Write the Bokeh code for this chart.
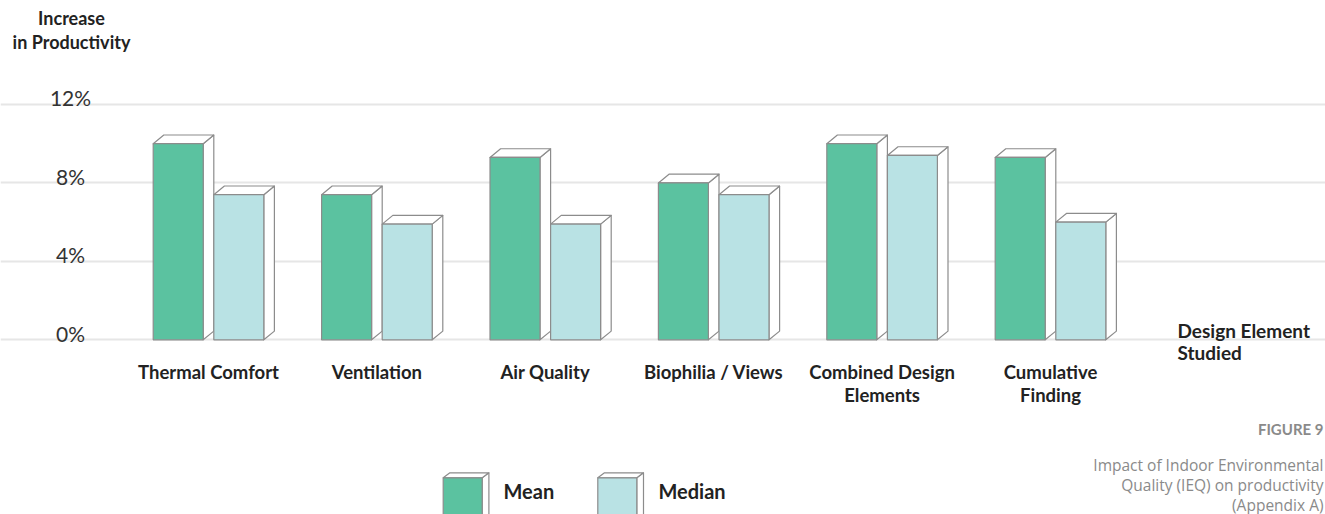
from bokeh.plotting import figure
from bokeh.models import Range1d, Grid, FixedTicker
from bokeh.core.properties import value
from bokeh.embed import file_html
from bokeh.resources import INLINE

# ---- data -------------------------------------------------------------
categories = [
    "Thermal Comfort",
    "Ventilation",
    "Air Quality",
    "Biophilia / Views",
    "Combined Design\nElements",
    "Cumulative\nFinding",
]
mean_vals = [10.0, 7.4, 9.3, 8.0, 10.0, 9.3]
median_vals = [7.4, 5.9, 5.9, 7.4, 9.4, 6.0]
series_names = ["Mean", "Median"]
y_ticks = [0, 4, 8, 12]
y_tick_labels = ["0%", "4%", "8%", "12%"]
caption_lines = [
    "Impact of Indoor Environmental",
    "Quality (IEQ) on productivity",
    "(Appendix A)",
]

# ---- styling ----------------------------------------------------------
MEAN_COLOR = "#5bc2a0"
MEDIAN_COLOR = "#b9e2e4"
EDGE = "#8c8c8c"
GRID = "#e6e6e6"
INK = "#222222"
MUTED = "#8a8a8a"

W, H = 1325, 514
# canvas geometry: centre of the first group, spacing between groups,
# baseline position and pixels per percentage point
X0_PX, STEP_PX = 208.0, 168.4
Y0_PX, UNIT_PX = 339.3, 19.61


def xd(px):
    return (px - X0_PX) / STEP_PX


def yd(py):
    return (Y0_PX - py) / UNIT_PX


BAR_W = 50.0 / STEP_PX          # width of the front face of one bar
DEPTH_X = 10.6 / STEP_PX        # horizontal depth of the 3-D extrusion
DEPTH_Y = 8.7 / UNIT_PX         # vertical depth of the 3-D extrusion

p = figure(
    width=W, height=H,
    x_range=Range1d(xd(0), xd(W)), y_range=Range1d(yd(H), yd(0)),
    output_backend="svg", toolbar_location=None,
    x_axis_location=None, y_axis_location=None,
    min_border=0, outline_line_color=None,
)
p.xgrid.visible = False
p.ygrid.visible = False

grid = Grid(dimension=1, ticker=FixedTicker(ticks=y_ticks),
            bounds=(xd(110), xd(1158)),
            grid_line_color=GRID, grid_line_width=2)
p.add_layout(grid)


def draw_bars(x0s, x1s, tops, bottoms, color, dx, dy):
    """Front face plus white top and side faces of extruded bars."""
    side_xs, side_ys, top_xs, top_ys = [], [], [], []
    for x0, x1, t, b in zip(x0s, x1s, tops, bottoms):
        side_xs.append([x1, x1 + dx, x1 + dx, x1])
        side_ys.append([b, b + dy, t + dy, t])
        top_xs.append([x0, x0 + dx, x1 + dx, x1])
        top_ys.append([t, t + dy, t + dy, t])
    p.patches(side_xs, side_ys, fill_color="white", line_color=EDGE,
              line_width=1.2, line_join="round")
    p.patches(top_xs, top_ys, fill_color="white", line_color=EDGE,
              line_width=1.2, line_join="round")
    p.quad(left=x0s, right=x1s, bottom=bottoms, top=tops,
           fill_color=color, line_color=EDGE, line_width=1.2)


idx = list(range(len(categories)))
mean_x0 = [i - BAR_W - DEPTH_X / 2 for i in idx]
mean_x1 = [x + BAR_W for x in mean_x0]
median_x0 = [i + DEPTH_X / 2 for i in idx]
median_x1 = [x + BAR_W for x in median_x0]
zeros = [0] * len(idx)

draw_bars(mean_x0, mean_x1, mean_vals, zeros, MEAN_COLOR, DEPTH_X, DEPTH_Y)
draw_bars(median_x0, median_x1, median_vals, zeros, MEDIAN_COLOR, DEPTH_X, DEPTH_Y)

# y tick labels, sitting just above their grid lines
p.text(x=[xd(70)] * len(y_ticks), y=[t + 6.5 / UNIT_PX for t in y_ticks],
       text=y_tick_labels,
       text_font=value("Lato"), text_font_size="21px", text_color="#333333",
       text_align="center", text_baseline="middle")

# category labels
p.text(x=idx, y=[yd(360)] * len(idx), text=categories,
       text_font=value("Lato"), text_font_style="bold", text_font_size="18.5px",
       text_color=INK, text_align="center", text_baseline="top",
       text_line_height=1.08)

# axis titles
p.text(x=[xd(71)], y=[yd(6)], text=["Increase\nin Productivity"],
       text_font=value("Lato"), text_font_style="bold", text_font_size="18px",
       text_color=INK, text_align="center", text_baseline="top",
       text_line_height=1.1)
p.text(x=[xd(1177)], y=[yd(318)], text=["Design Element\nStudied"],
       text_font=value("Lato"), text_font_style="bold", text_font_size="19px",
       text_color=INK, text_align="left", text_baseline="top",
       text_line_height=0.965)

# figure number and caption
p.text(x=[xd(1323)], y=[yd(428)], text=["FIGURE 9"],
       text_font=value("Lato"), text_font_style="bold", text_font_size="15px",
       text_color=MUTED, text_align="right", text_baseline="middle")
p.text(x=[xd(1323)] * 3, y=[yd(464), yd(484), yd(504)], text=caption_lines,
       text_font=value("Open Sans"), text_font_size="15.5px",
       text_color=MUTED, text_align="right", text_baseline="middle")

# legend with extruded swatches
LEG_DX, LEG_DY = 6.7 / STEP_PX, 5.0 / UNIT_PX
draw_bars([xd(442.7)], [xd(481.7)], [yd(477.3)], [yd(530)], MEAN_COLOR,
          LEG_DX, LEG_DY)
draw_bars([xd(597.3)], [xd(636.3)], [yd(477.3)], [yd(530)], MEDIAN_COLOR,
          LEG_DX, LEG_DY)
p.text(x=[xd(503), xd(658)], y=[yd(490.5)] * 2, text=series_names,
       text_font=value("Lato"), text_font_style="bold", text_font_size="20px",
       text_color=INK, text_align="left", text_baseline="middle")

open("out.html", "w").write(file_html(p, INLINE))
